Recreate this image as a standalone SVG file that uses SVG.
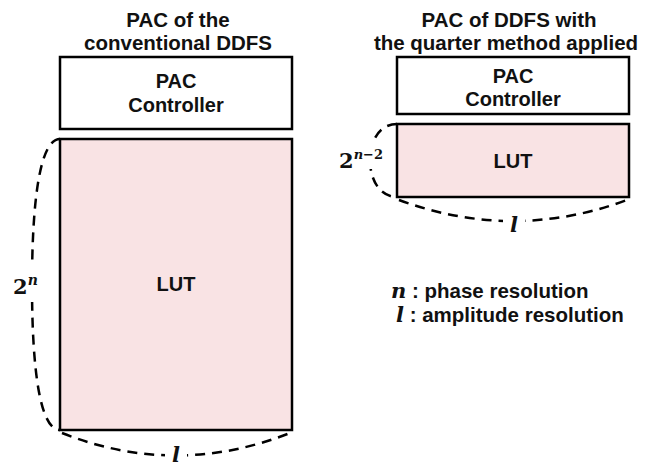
<svg xmlns="http://www.w3.org/2000/svg" width="658" height="466" viewBox="0 0 658 466">
  <style>
    .box { fill: #ffffff; stroke: #000; stroke-width: 2.5; }
    .lut { fill: #f9e3e4; stroke: #000; stroke-width: 2.5; }
    .lbl { font-family: "Liberation Sans", Arial, sans-serif; font-weight: bold; font-size: 20px; fill: #111; text-anchor: middle; }
    .title { font-family: "Liberation Sans", Arial, sans-serif; font-weight: bold; font-size: 20.5px; fill: #111; text-anchor: middle; }
    .math { font-family: "DejaVu Serif", "Liberation Serif", serif; fill: #111; }
    .legend { font-family: "Liberation Sans", Arial, sans-serif; font-weight: bold; font-size: 20.5px; fill: #111; }
    .dim { fill: none; stroke: #000; stroke-width: 2.5; stroke-dasharray: 10 7; stroke-linecap: butt; }
    .gap { fill: #ffffff; stroke: none; }
  </style>

  <!-- headings -->
  <g id="title-left">
    <text class="title" x="178" y="27">PAC of the</text>
    <text class="title" x="178" y="50">conventional DDFS</text>
  </g>
  <g id="title-right">
    <text class="title" x="509" y="27">PAC of DDFS with</text>
    <text class="title" x="506" y="50">the quarter method applied</text>
  </g>

  <!-- conventional PAC -->
  <g id="ctrl-left">
    <rect class="box" x="60" y="57" width="232" height="72"/>
    <text class="lbl" x="176" y="88">PAC</text>
    <text class="lbl" x="176" y="112">Controller</text>
  </g>
  <g id="lut-left">
    <rect class="lut" x="60" y="139" width="232" height="291"/>
    <text class="lbl" x="176" y="291">LUT</text>
  </g>

  <!-- quarter-method PAC -->
  <g id="ctrl-right">
    <rect class="box" x="397" y="57" width="232" height="57"/>
    <text class="lbl" x="513" y="83">PAC</text>
    <text class="lbl" x="513" y="106">Controller</text>
  </g>
  <g id="lut-right">
    <rect class="lut" x="397" y="124" width="232" height="73"/>
    <text class="lbl" x="513" y="168">LUT</text>
  </g>

  <!-- dimension braces -->
  <g id="connectors">
    <path class="dim" d="M60,139 C40,139 32,200 32,285 C32,370 40,430 60,430"/>
    <path class="dim" d="M62,433 Q176,478 290,433"/>
    <path class="dim" d="M397,124 C380,124 370,140 370,160 C370,180 380,197 397,197"/>
    <path class="dim" d="M399,200 Q513,242 627,200"/>
  </g>

  <!-- dimension labels -->
  <g id="dim-left-height">
    <rect class="gap" x="12" y="266" width="26" height="36"/>
    <text class="math" x="13" y="294" font-size="21" font-weight="bold">2<tspan font-size="14" font-style="italic" dy="-9">n</tspan></text>
  </g>
  <g id="dim-left-width">
    <rect class="gap" x="165" y="444" width="22" height="22"/>
    <text class="math" x="176" y="462" font-size="21" font-style="italic" font-weight="bold" text-anchor="middle">l</text>
  </g>
  <g id="dim-right-height">
    <rect class="gap" x="338" y="143" width="46" height="26"/>
    <text class="math" x="339" y="168" font-size="21" font-weight="bold">2<tspan font-size="13" font-style="italic" dy="-9">n</tspan><tspan font-size="13">−2</tspan></text>
  </g>
  <g id="dim-right-width">
    <rect class="gap" x="503" y="213" width="22" height="22"/>
    <text class="math" x="514" y="232" font-size="21" font-style="italic" font-weight="bold" text-anchor="middle">l</text>
  </g>

  <!-- legend -->
  <g id="legend">
    <text class="legend" x="391" y="298"><tspan class="math" font-style="italic" font-size="21">n</tspan> : phase resolution</text>
    <text class="legend" x="396" y="322"><tspan class="math" font-style="italic" font-size="21">l</tspan> : amplitude resolution</text>
  </g>
</svg>
